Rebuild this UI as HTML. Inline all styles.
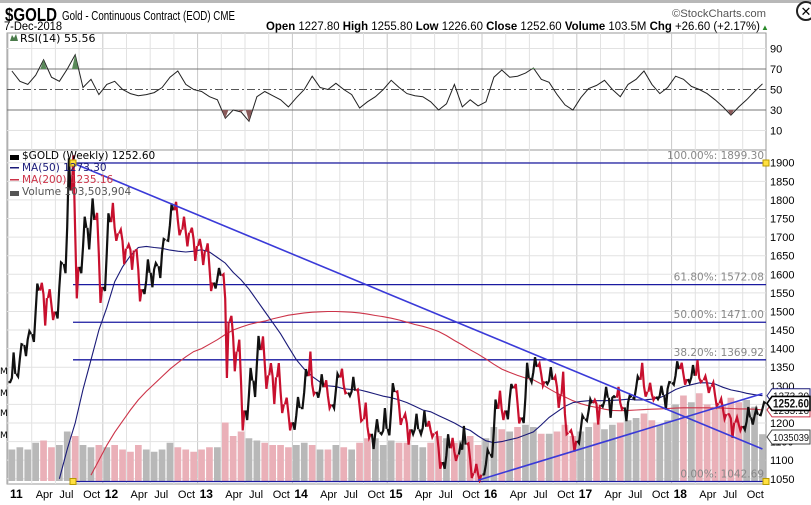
<!DOCTYPE html>
<html><head><meta charset="utf-8"><style>
html,body{margin:0;padding:0;background:#fff;overflow:hidden}
svg{display:block;font-family:"DejaVu Sans","Liberation Sans",sans-serif}
.nar{font-family:"Liberation Sans",sans-serif}
</style></head><body>
<svg id="chart" width="811" height="505" viewBox="0 0 811 505">
<rect x="0" y="0" width="811" height="505" fill="#fff"/>
<rect x="0" y="0" width="811" height="3" fill="#b8b8b8"/>
<g class="nar">
<text x="5" y="21" font-size="18" font-weight="bold" textLength="52" lengthAdjust="spacingAndGlyphs">$GOLD</text>
<text x="62" y="20" font-size="12.5" textLength="173" lengthAdjust="spacingAndGlyphs">Gold - Continuous Contract (EOD) CME</text>
<text x="672" y="17" font-size="11" fill="#555" textLength="94" lengthAdjust="spacingAndGlyphs">©StockCharts.com</text>
<text x="4" y="30" font-size="11.5" textLength="58" lengthAdjust="spacingAndGlyphs">7-Dec-2018</text>
<text x="266" y="30" font-size="11.5" textLength="494" lengthAdjust="spacingAndGlyphs"><tspan font-weight="bold">Open</tspan> 1227.80 <tspan font-weight="bold">High</tspan> 1255.80 <tspan font-weight="bold">Low</tspan> 1226.60 <tspan font-weight="bold">Close</tspan> 1252.60 <tspan font-weight="bold">Volume</tspan> 103.5M <tspan font-weight="bold">Chg</tspan> +26.60 (+2.17%)</text>
<text x="761" y="30" font-size="8" fill="#2a8a2a">▲</text>
</g>
<g><circle cx="806" cy="11" r="9" fill="#fff" stroke="#222" stroke-width="2"/><text x="806" y="16" font-size="13" text-anchor="middle" font-weight="bold">✕</text></g>
<g id="grid"></g>
<g id="rsi"></g>
<g id="main"></g>
<g id="axes"></g>
</svg>
<script>
// ---- data (monthly, Jan 2011 .. Dec 2018) ----
const years = ["11","12","13","14","15","16","17","18"];
const closes = [1332,1410,1439,1556,1536,1500,1628,1825,1620,1725,1746,1566,
1740,1710,1669,1664,1560,1604,1622,1692,1772,1720,1712,1676,
1663,1578,1596,1473,1392,1234,1314,1396,1328,1323,1250,1202,
1240,1326,1284,1296,1250,1322,1282,1287,1210,1171,1175,1184,
1283,1213,1183,1183,1190,1172,1095,1132,1115,1142,1065,1061,
1117,1238,1234,1293,1215,1321,1351,1312,1316,1276,1174,1152,
1211,1253,1249,1268,1268,1242,1269,1316,1284,1271,1275,1309,
1345,1318,1327,1315,1298,1253,1224,1201,1192,1215,1222,1252.6];
const highs = [1390,1412,1447,1575,1577,1560,1632,1912,1920,1755,1804,1765,
1764,1792,1720,1680,1665,1640,1630,1695,1790,1795,1755,1725,
1695,1683,1617,1600,1488,1424,1348,1434,1433,1361,1361,1268,
1270,1345,1392,1331,1315,1332,1346,1324,1290,1255,1210,1240,
1307,1285,1224,1225,1233,1205,1175,1170,1160,1192,1145,1090,
1127,1263,1287,1305,1305,1362,1377,1360,1350,1325,1338,1180,
1220,1264,1262,1297,1272,1297,1275,1325,1362,1308,1300,1310,
1366,1362,1356,1369,1326,1309,1265,1223,1215,1243,1237,1256];
const lows = [1310,1325,1380,1418,1462,1477,1481,1603,1535,1603,1667,1523,
1555,1690,1627,1612,1527,1547,1565,1590,1690,1705,1675,1636,
1625,1555,1562,1321,1339,1180,1208,1270,1292,1251,1227,1180,
1182,1240,1277,1268,1240,1240,1280,1273,1205,1160,1130,1170,
1167,1195,1142,1170,1170,1162,1077,1077,1098,1140,1052,1046,
1062,1107,1208,1210,1199,1200,1310,1300,1305,1241,1170,1123,
1146,1206,1196,1244,1214,1237,1205,1265,1271,1262,1264,1236,
1303,1303,1308,1310,1281,1245,1211,1160,1180,1182,1196,1221];
const volumes = [70,75,70,85,90,75,80,110,100,80,75,80,
75,80,70,65,80,70,65,70,85,75,70,65,
70,75,75,130,100,110,95,90,85,80,80,75,
80,85,80,70,70,80,75,70,85,95,95,80,
90,85,85,80,75,85,100,95,85,90,100,80,
95,120,115,110,120,125,120,105,105,110,125,100,
110,120,130,115,125,130,135,140,150,135,125,135,
170,190,175,195,170,165,170,185,175,180,165,104];
const ma50 = [null,null,null,null,null,null,1050,1130,1200,1290,1370,1450,
1510,1580,1620,1650,1672,1675,1672,1670,1665,1662,1660,1662,
1666,1660,1645,1630,1605,1585,1560,1530,1500,1470,1440,1405,
1370,1345,1325,1310,1300,1298,1292,1290,1289,1284,1278,1272,
1268,1262,1255,1245,1235,1230,1220,1210,1200,1188,1180,1165,
1152,1147,1150,1155,1160,1168,1176,1195,1215,1230,1245,1255,
1258,1260,1260,1260,1261,1262,1264,1262,1262,1264,1268,1278,
1290,1298,1303,1308,1308,1305,1296,1289,1285,1280,1276,1273.3];
const ma200 = [null,null,null,null,null,null,null,null,null,null,1060,1100,
1140,1175,1205,1235,1262,1285,1305,1325,1345,1362,1378,1392,
1400,1412,1424,1438,1450,1458,1465,1470,1474,1480,1485,1490,
1493,1496,1498,1499,1500,1500,1499,1498,1496,1493,1489,1486,
1482,1477,1471,1465,1460,1454,1446,1435,1422,1410,1397,1385,
1372,1358,1345,1336,1328,1321,1316,1305,1292,1280,1270,1260,
1252,1246,1242,1237,1234,1233,1234,1235,1236,1237,1238,1239,
1240,1241,1241,1241,1241,1240,1240,1239,1238,1238,1237,1235.16];
const rsi = [68,58,55,64,79,62,58,70,84,52,60,45,
55,58,50,46,44,45,47,52,62,68,55,50,
48,43,40,22,30,28,19,43,48,44,40,33,
42,50,63,52,50,56,50,45,32,38,43,50,
59,52,46,44,43,38,30,36,55,33,40,34,
38,62,69,62,63,66,71,60,57,45,35,30,
42,51,54,59,50,43,55,60,68,55,46,52,
63,60,53,50,46,40,33,25,33,40,48,55.56];
const priceTicks = [1050,1100,1150,1200,1250,1300,1350,1400,1450,1500,1550,1600,1650,1700,1750,1800,1850,1900];
const rsiTicks = [10,30,50,70,90];
const fibPct = ["100.00%","61.80%","50.00%","38.20%","0.00%"];
const fibVals = [1899.30,1572.08,1471.00,1369.92,1042.69];
const trendDown = [[8.2,1899.3],[95.5,1130]];
const trendUp = [[59.5,1046],[95.5,1279]];

// ---- scales ----
const X0=8, MW=7.9, RIGHT=766;
const xm=(m)=>X0+m*MW;
const yp=(p)=>163+(1899.3-p)*0.3718;
const yr=(r)=>89.5-(r-50)*1.025;
const yv=(v)=>481-v*0.45;
const NS="http://www.w3.org/2000/svg";
function mk(tag,attrs,parent){const e=document.createElementNS(NS,tag);for(const k in attrs)e.setAttribute(k,attrs[k]);parent.appendChild(e);return e;}
const grid=document.getElementById('grid'),rsiG=document.getElementById('rsi'),mainG=document.getElementById('main'),axes=document.getElementById('axes');

let p=mk('rect',{x:7,y:33,width:RIGHT-7,height:117,fill:'none',stroke:'#999'},grid);


p=mk('rect',{x:7,y:150,width:RIGHT-7,height:334,fill:'none',stroke:'#999'},grid);


for(let m=0;m<96;m+=3){
  const x=xm(m);
  let l=mk('line',{x1:x,x2:x,y1:33,y2:150,stroke:m%12==0?'#c8c8c8':'#e2e2e2'},grid);
  
  
  l=mk('line',{x1:x,x2:x,y1:150,y2:484,stroke:m%12==0?'#c8c8c8':'#e2e2e2'},grid);
  
  
  const t=mk('text',{x:x+(m%12==0?2:4),y:498,'font-size':m%12==0?12:11,'font-weight':m%12==0?'bold':'normal',class:'nar'},axes);
  t.textContent=m%12==0?years[m/12]:["","","","Apr","","","Jul","","","Oct"][m%12];
  
  
}
for(const v of priceTicks){
  const y=yp(v);
  const l=mk('line',{x1:7,x2:RIGHT,y1:y,y2:y,stroke:'#e2e2e2'},grid);
  
  
  const t=mk('text',{x:770,y:y+4,'font-size':11,class:'nar'},axes);
  t.textContent=v;
  
  
}
for(const r of rsiTicks){
  const y=yr(r);
  const l=mk('line',{x1:7,x2:RIGHT,y1:y,y2:y,stroke:(r==30||r==70)?'#777':(r==50?'#555':'#e2e2e2'),'stroke-dasharray':r==50?'8,3,2,3':'none'},grid);
  
  
  const t=mk('text',{x:770,y:y+4,'font-size':11,class:'nar'},axes);
  t.textContent=r;
  
  
}
let pts=rsi.map((r,i)=>`${xm(i+0.5).toFixed(1)},${yr(r).toFixed(1)}`).join(' ');
let rl=mk('polyline',{points:pts,fill:'none',stroke:'#222','stroke-width':1},rsiG);


rsi.forEach((r,i)=>{
  if(r>70||r<30){
    const lvl=r>70?70:30;
    const poly=mk('polygon',{points:`${xm(i+0.1)},${yr(lvl)} ${xm(i+0.5)},${yr(r)} ${xm(i+0.9)},${yr(lvl)}`,fill:r>70?'#5a8a5a':'#8a5a5a'},rsiG);
    
    
  }
});
let rt=mk('text',{x:20,y:42,'font-size':11},rsiG);
rt.textContent='RSI(14) 55.56';


mk('path',{d:'M10 41 L12 35 L14 38 L16 34 L18 41 Z',fill:'#4a7a4a'},rsiG);

const defs=mk('defs',{},mainG);
const cp=mk('clipPath',{id:'pc'},defs);
mk('rect',{x:8,y:151,width:RIGHT-8,height:332},cp);
const clipG=mk('g',{'clip-path':'url(#pc)'},mainG);
volumes.forEach((v,i)=>{
  const prev=i?closes[i-1]:closes[0];
  const b=mk('rect',{x:xm(i)+0.6,y:yv(v),width:MW-1.2,height:481-yv(v),fill:closes[i]>=prev?'#b8b8b8':'#eab0b8'},clipG);
  
  
});
fibVals.forEach((v,i)=>{
  const y=yp(v);
  const l=mk('line',{x1:73,x2:RIGHT,y1:y,y2:y,stroke:'#1a1aa0','stroke-width':1.3},clipG);
  
  
  const t=mk('text',{x:764,y:y-4,'font-size':10.5,fill:'#888','text-anchor':'end'},mainG);
  t.textContent=fibPct[i]+': '+v.toFixed(2);
  
  
});
function maLine(arr,color,name){
  const pp=[];arr.forEach((v,i)=>{if(v!=null)pp.push(`${xm(i+0.5).toFixed(1)},${yp(v).toFixed(1)}`);});
  const l=mk('polyline',{points:pp.join(' '),fill:'none',stroke:color,'stroke-width':1.1},clipG);
  
  
}
maLine(ma200,'#cc3348','ma200-line');
maLine(ma50,'#1a1a78','ma50-line');
closes.forEach((c,i)=>{
  const o=i?closes[i-1]:lows[0];
  const x=xm(i);
  const up=c>=o;
  const seq=up?[o,lows[i],(o+c)/2,highs[i],c]:[o,highs[i],(o+c)/2,lows[i],c];
  const pts=seq.map((v,k)=>`${(x+0.5+k*1.7).toFixed(1)},${yp(v).toFixed(1)}`).join(' ');
  const b=mk('polyline',{points:pts,fill:'none',stroke:up?'#111':'#c8102e','stroke-width':2.2},clipG);
  
  
});
[[trendDown,'trendline-down'],[trendUp,'trendline-up']].forEach(([t,n])=>{
  const l=mk('line',{x1:xm(t[0][0]),y1:yp(t[0][1]),x2:xm(t[1][0]),y2:yp(t[1][1]),stroke:'#3a3ad8','stroke-width':1.6},clipG);
  
  
});
[[73,yp(1899.3)],[73,yp(1042.69)],[766,yp(1899.3)],[766,yp(1042.69)]].forEach(([x,y])=>{
  const s=mk('rect',{x:x-3,y:y-3,width:6,height:6,fill:'#ffe040',stroke:'#b89a00'},mainG);
  
  
});
const leg=[['$GOLD (Weekly) 1252.60','#000','legend-price'],['MA(50) 1273.30','#1a1a78','legend-ma50'],['MA(200) 1235.16','#cc3348','legend-ma200'],['Volume 103,503,904','#555','legend-volume']];
leg.forEach((l,i)=>{
  const t=mk('text',{x:22,y:159+i*12,'font-size':10.5,fill:l[1]},mainG);
  t.textContent=l[0];
  
  
  mk('rect',{x:10,y:155+i*12,width:9,height:i==0||i==3?5:1.5,fill:l[1]},mainG);
});
function tag(y,txt,color,bold,name){
  const g=mk('g',{},axes);
  
  
  mk('path',{d:`M767 ${y} L772 ${y-7} L810 ${y-7} L810 ${y+7} L772 ${y+7} Z`,fill:'#fff',stroke:color,'stroke-width':bold?1.6:1},g);
  const t=mk('text',{x:773,y:y+4,'font-size':bold?11.5:10.5,'font-weight':bold?'bold':'normal',class:'nar',fill:'#111',textLength:36,lengthAdjust:'spacingAndGlyphs'},g);
  t.textContent=txt;
}
tag(yp(1235.16),'1235.16','#cc3348',false,'ma200-value-tag');
tag(yp(1273.3),'1273.30','#1a1a78',false,'ma50-value-tag');
tag(yp(1252.6),'1252.60','#000',true,'last-price-tag');
tag(437,'1035039','#444',false,'volume-average-tag');
['M','M','M','M'].forEach((m,i)=>{const t=mk('text',{x:0,y:[374,396,416,438][i],'font-size':9},axes);t.textContent=m;});
</script>
</body></html>
